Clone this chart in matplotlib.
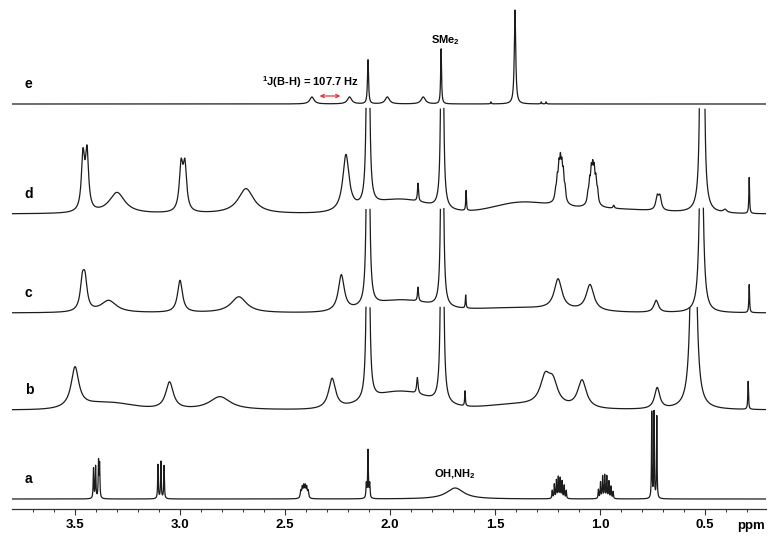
import numpy as np
import matplotlib
matplotlib.use("Agg")
import matplotlib.pyplot as plt

plt.rcParams['font.family'] = ['Liberation Sans', 'DejaVu Sans']
plt.rcParams['mathtext.fontset'] = 'custom'
plt.rcParams['mathtext.rm'] = 'Liberation Sans:bold'
plt.rcParams['mathtext.default'] = 'rm'

# peak lists: (shift ppm, height px, half width ppm)
peaks_a = [(3.412, 30, 0.0018), (3.402, 32, 0.0018), (3.388, 36, 0.0018), (3.383, 33, 0.0018),
           (3.105, 34, 0.0018), (3.091, 37, 0.0018), (3.076, 33, 0.0018),
           (2.425, 7, 0.003), (2.418, 10, 0.003), (2.411, 11, 0.003), (2.404, 11, 0.003),
           (2.397, 10, 0.003), (2.390, 7, 0.003),
           (2.113, 14, 0.002), (2.105, 48, 0.002), (2.097, 14, 0.002),
           (1.690, 11, 0.05),
           (1.228, 8, 0.0018), (1.218, 14, 0.0018), (1.208, 18, 0.0018), (1.199, 21, 0.0018),
           (1.190, 20, 0.0018), (1.181, 17, 0.0018), (1.171, 13, 0.0018), (1.161, 8, 0.0018),
           (1.008, 9, 0.0018), (0.998, 16, 0.0018), (0.988, 22, 0.0018), (0.978, 23, 0.0018),
           (0.968, 22, 0.0018), (0.958, 17, 0.0018), (0.948, 12, 0.0018), (0.938, 7, 0.0018),
           (0.754, 86, 0.0015), (0.743, 86, 0.0015), (0.730, 82, 0.0015)]
humps_a = []

peaks_b = [(3.500, 40, 0.022), (3.050, 27, 0.022), (2.810, 13, 0.06), (2.276, 30, 0.02),
           (2.105, 1500, 0.0025), (1.870, 16, 0.004), (1.752, 1500, 0.0025), (1.643, 15, 0.002),
           (1.262, 26, 0.028), (1.225, 22, 0.028), (1.086, 28, 0.025), (0.728, 21, 0.015),
           (0.555, 600, 0.008), (0.295, 28, 0.002)]
humps_b = [(3.35, 7, 0.12), (1.95, 18, 0.14), (1.40, 5, 0.15)]

peaks_c = [(3.465, 27, 0.012), (3.452, 27, 0.012), (3.340, 12, 0.045), (3.000, 32, 0.014),
           (2.720, 16, 0.045), (2.232, 36, 0.017), (2.105, 1500, 0.0025), (1.867, 14, 0.003),
           (1.752, 1500, 0.0022), (1.640, 13, 0.002), (1.200, 30, 0.022), (1.048, 26, 0.022),
           (0.733, 12, 0.013), (0.518, 260, 0.008), (0.290, 28, 0.002)]
humps_c = [(1.95, 12, 0.14), (1.40, 5, 0.25)]

peaks_d = [(3.462, 54, 0.009), (3.443, 57, 0.009), (3.300, 21, 0.045),
           (2.995, 44, 0.010), (2.977, 44, 0.010), (2.686, 25, 0.045), (2.210, 56, 0.018),
           (2.105, 1500, 0.0025), (1.867, 18, 0.003), (1.752, 1500, 0.0022), (1.638, 20, 0.002),
           (1.212, 8, 0.004), (1.204, 16, 0.004), (1.196, 24, 0.004), (1.189, 27, 0.004),
           (1.182, 24, 0.004), (1.175, 21, 0.004), (1.167, 11, 0.004), (1.190, 12, 0.02),
           (1.058, 8, 0.004), (1.050, 17, 0.004), (1.042, 24, 0.004), (1.035, 24, 0.004),
           (1.028, 24, 0.004), (1.020, 19, 0.004), (1.012, 11, 0.004), (1.035, 10, 0.02),
           (0.935, 3, 0.004), (0.728, 13, 0.008), (0.715, 13, 0.008),
           (0.521, 380, 0.0028), (0.514, 400, 0.0028), (0.507, 380, 0.0028), (0.514, 40, 0.015),
           (0.405, 3, 0.01), (0.290, 36, 0.002)]
humps_d = [(1.95, 14, 0.14), (1.38, 10, 0.13), (1.00, 5, 0.25)]

peaks_e = [(2.372, 7, 0.012), (2.193, 7, 0.012), (2.013, 7, 0.012), (1.842, 7, 0.012),
           (2.105, 44, 0.003), (1.757, 55, 0.0025), (1.520, 2, 0.002), (1.405, 94, 0.004),
           (1.280, 2, 0.002), (1.257, 2, 0.002)]
humps_e = []

labels = ['a', 'b', 'c', 'd', 'e']
offsets = [10, 99, 196, 295, 405]      # baseline height above the axis (px)
clips = [None, 103, 105, 106, None]    # tall lines cut at the trace above

x = np.linspace(3.8, 0.21, 40000)


def trace(peaks, humps):
    y = np.zeros_like(x)
    for p, h, w in peaks:
        y += h / (1 + ((x - p) / w) ** 2)
    for p, h, s in humps:
        y += h * np.exp(-0.5 * ((x - p) / s) ** 2)
    return y


fig = plt.figure(figsize=(7.82, 5.44), dpi=100)
ax = fig.add_axes([12 / 782, 35 / 544, 754 / 782, 509 / 544])

spectra = [(peaks_a, humps_a), (peaks_b, humps_b), (peaks_c, humps_c),
           (peaks_d, humps_d), (peaks_e, humps_e)]
for (pk, hm), lab, off, cl in zip(spectra, labels, offsets, clips):
    y = trace(pk, hm)
    if cl is not None:
        y = np.where(y > cl, np.nan, y)
    ax.plot(x, y + off, color='#1c1c1c', lw=0.9)
    ax.text(3.72, off + 20, lab, fontsize=10, fontweight='bold', ha='center', va='center')

# annotations
ax.text(2.381, 427, '$^1$J(B-H) = 107.7 Hz', fontsize=8, fontweight='bold', ha='center', va='center')
ax.annotate('', xy=(2.224, 413), xytext=(2.348, 413),
            arrowprops=dict(arrowstyle='<->', color='#e41e26', lw=0.8, mutation_scale=6))
ax.text(1.738, 469, 'SMe$_2$', fontsize=8, fontweight='bold', ha='center', va='center')
ax.text(1.69, 35, 'OH,NH$_2$', fontsize=8, fontweight='bold', ha='center', va='center')
ax.text(0.279, -17, 'ppm', fontsize=9.5, fontweight='bold', ha='center', va='center')

ax.set_xlim(3.8, 0.21)
ax.set_ylim(0, 509)
for s in ['left', 'right', 'top']:
    ax.spines[s].set_visible(False)
ax.spines['bottom'].set_color('#333333')
ax.spines['bottom'].set_linewidth(0.9)
ax.set_yticks([])
ax.set_xticks([3.5, 3.0, 2.5, 2.0, 1.5, 1.0, 0.5])
ax.set_xticklabels(['3.5', '3.0', '2.5', '2.0', '1.5', '1.0', '0.5'], fontweight='bold')
ax.set_xticks(np.arange(0.3, 3.75, 0.1), minor=True)
ax.tick_params(axis='x', which='major', length=4, width=0.8, labelsize=9.5, pad=3, color='#333333')
ax.tick_params(axis='x', which='minor', length=2.2, width=0.7, color='#333333')

fig.savefig('out.png', dpi=100)
